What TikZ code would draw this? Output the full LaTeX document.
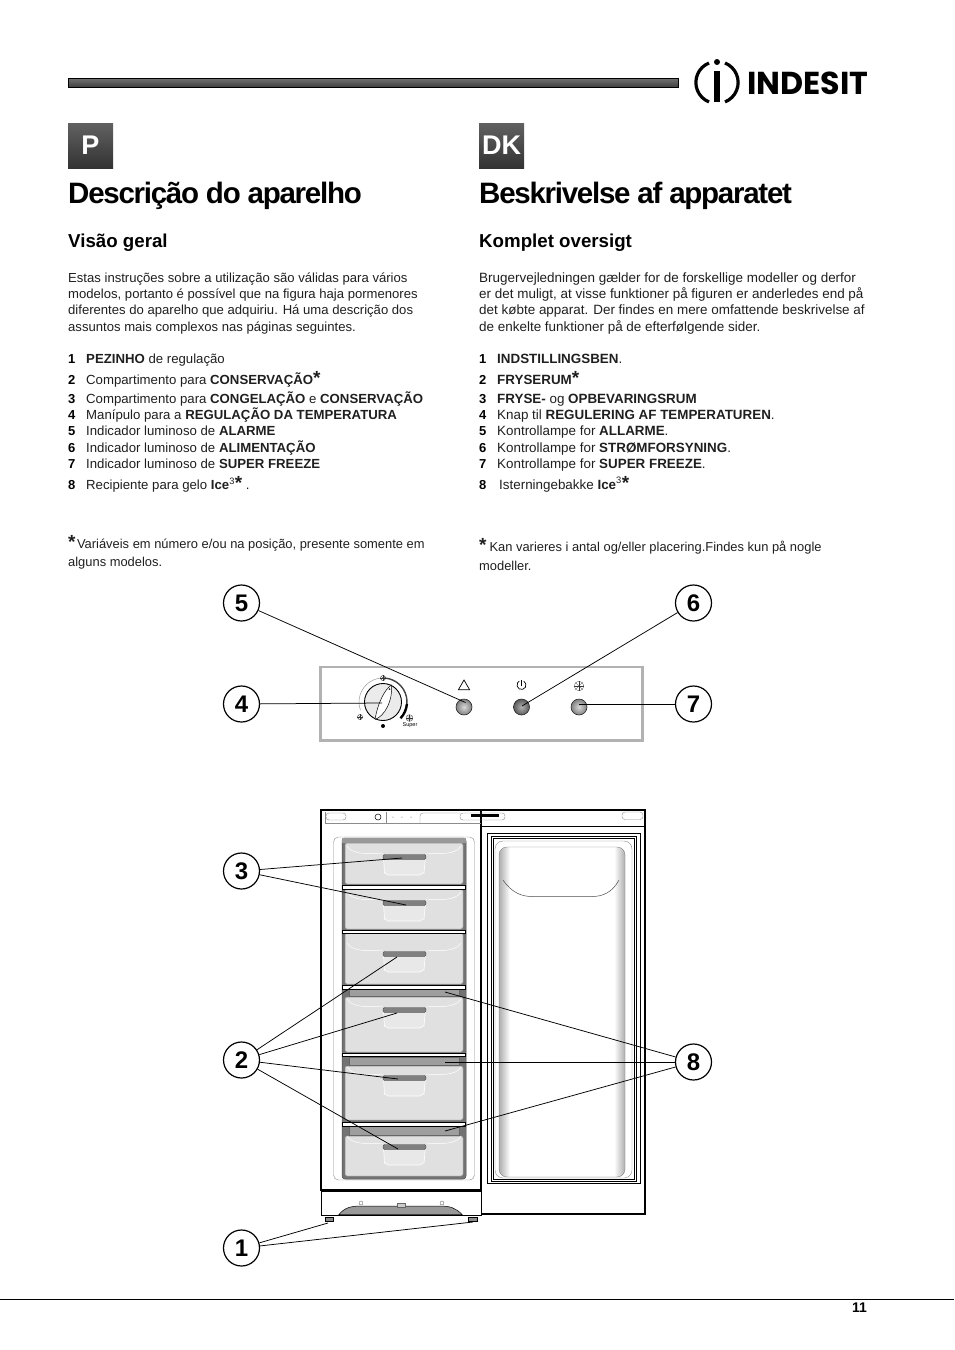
\documentclass[tikz,border=0pt]{standalone}
\usepackage{fontspec}
\usepackage{tikz}
\usetikzlibrary{positioning,calc,shapes.geometric}
\setmainfont{Liberation Sans}
\newfontfamily\headfont[LetterSpace=-4.3]{Liberation Sans}
\newfontfamily\logofont{Poppins}
\newcommand{\noteast}{{\fontsize{19}{19}\selectfont\bfseries *}}

\begin{document}
\begin{tikzpicture}[x=1pt, y=-1pt,
    bar/.style={draw=black, line width=0.8pt, top color=black!55, bottom color=black!75},
    langbox/.style={rectangle, minimum size=45pt, inner sep=0pt, top color=black!62, bottom color=black!80, text=white, font=\fontsize{27}{27}\selectfont\bfseries},
    heading/.style={anchor=base west, inner sep=0pt, font=\fontsize{29.5}{30}\selectfont\headfont\bfseries},
    subhead/.style={anchor=base west, inner sep=0pt, font=\fontsize{18.7}{20}\selectfont\bfseries},
    bodyline/.style={anchor=base west, inner sep=0pt, text=black!88, font=\fontsize{13.1}{15}\selectfont},
    bodylinedk/.style={anchor=base west, inner sep=0pt, text=black!88, font=\fontsize{13.45}{15}\selectfont},
    itemline/.style={anchor=base west, inner sep=0pt, text=black!88, font=\fontsize{13.2}{15}\selectfont},
    itemlinedk/.style={anchor=base west, inner sep=0pt, text=black!88, font=\fontsize{13.4}{15}\selectfont},
    noteline/.style={anchor=base west, inner sep=0pt, text=black!88, font=\fontsize{12.9}{15}\selectfont},
    numline/.style={anchor=base west, inner sep=0pt, font=\fontsize{13}{15}\selectfont\bfseries},
    callout/.style={circle, draw=black, line width=1.2pt, fill=white, minimum size=36pt, inner sep=0pt, font=\fontsize{24}{24}\selectfont\bfseries},
    leader/.style={draw=black, line width=0.75pt},
    lamp/.style={circle, draw=black!85, line width=0.6pt, minimum size=16pt, inner sep=0pt, inner color=black!15, outer color=black!50},
    wall/.style={draw=black, line width=1.5pt},
    drawer/.style={draw=black!45, line width=0.5pt, fill=black!12, rounded corners=2pt},
    shelf/.style={draw=black, line width=0.6pt, fill=white},
    iceb/.style={draw=black!60, line width=0.5pt, fill=black!38},
    thin/.style={draw=black, line width=0.5pt},
    faint/.style={draw=black!45, line width=0.4pt},
    flake/.pic={
        \draw [black!80, line width=0.3pt] (0,0) circle (\flakesize);
        \foreach \a in {0,45,90,135}
            \draw [black!80, line width=0.3pt] (\a:\flakesize) -- (\a+180:\flakesize);
    }]

    \useasboundingbox (0,0) rectangle (954,1350);

    % header
    \path [bar] (68,78) rectangle (678,87);
    \draw [line width=3.2pt] (709,63) arc (-112:-248:21);
    \draw [line width=3.2pt] (725,63) arc (-68:68:21);
    \node [circle, fill=black, minimum size=6pt, inner sep=0pt] (logodot) at (717,62) {};
    \path [fill=black] (714,71) rectangle (720,102);
    \node [anchor=base west, inner sep=0pt, font=\fontsize{31.7}{33}\selectfont\logofont\bfseries] (logotext) at (747,94) {INDESIT};

    % portuguese column
    \node [langbox] (langp) at (90.5,145.5) {P};
    \node [heading] (titlep) at (68,203) {Descrição do aparelho};
    \node [subhead] (subp) at (68,247) {Visão geral};
    \foreach \y/\t [count=\i] in {282/{Estas instruções sobre a utilização são válidas para vários},
        298/{modelos, portanto é possível que na figura haja pormenores},
        314/{diferentes do aparelho que adquiriu. Há uma descrição dos},
        331/{assuntos mais complexos nas páginas seguintes.}}
        \node [bodyline] (introp\i) at (68,\y) {\t};
    \foreach \y/\n/\t in {363/1/{\textbf{PEZINHO} de regulação},
        384/2/{Compartimento para \textbf{CONSERVAÇÃO}\noteast},
        403/3/{Compartimento para \textbf{CONGELAÇÃO} e \textbf{CONSERVAÇÃO}},
        419/4/{Manípulo para a \textbf{REGULAÇÃO DA TEMPERATURA}},
        435/5/{Indicador luminoso de \textbf{ALARME}},
        452/6/{Indicador luminoso de \textbf{ALIMENTAÇÃO}},
        468/7/{Indicador luminoso de \textbf{SUPER FREEZE}},
        489/8/{Recipiente para gelo \textbf{Ice}\textsuperscript{3}\noteast\ .}}{
        \node [numline] (nump\n) at (68,\y) {\n};
        \node [itemline] (itemp\n) at (86,\y) {\t};
    }
    \node [noteline] (notep1) at (68,548) {\noteast\hspace{1.5pt}Variáveis em número e/ou na posição, presente somente em};
    \node [noteline] (notep2) at (68,566) {alguns modelos.};

    % danish column
    \node [langbox] (langdk) at (501.5,145.5) {DK};
    \node [heading] (titledk) at (479,203) {Beskrivelse af apparatet};
    \node [subhead] (subdk) at (479,247) {Komplet oversigt};
    \foreach \y/\t [count=\i] in {282/{Brugervejledningen gælder for de forskellige modeller og derfor},
        298/{er det muligt, at visse funktioner på figuren er anderledes end på},
        314/{det købte apparat. Der findes en mere omfattende beskrivelse af},
        331/{de enkelte funktioner på de efterfølgende sider.}}
        \node [bodylinedk] (introdk\i) at (479,\y) {\t};
    \foreach \y/\n/\t/\xx in {363/1/{\textbf{INDSTILLINGSBEN}.}/497,
        384/2/{\textbf{FRYSERUM}\noteast}/497,
        403/3/{\textbf{FRYSE-} og \textbf{OPBEVARINGSRUM}}/497,
        419/4/{Knap til \textbf{REGULERING AF TEMPERATUREN}.}/497,
        435/5/{Kontrollampe for \textbf{ALLARME}.}/497,
        452/6/{Kontrollampe for \textbf{STRØMFORSYNING}.}/497,
        468/7/{Kontrollampe for \textbf{SUPER FREEZE}.}/497,
        489/8/{Isterningebakke \textbf{Ice}\textsuperscript{3}\noteast}/499}{
        \node [numline] (numdk\n) at (479,\y) {\n};
        \node [itemlinedk] (itemdk\n) at (\xx,\y) {\t};
    }
    \node [noteline] (notedk1) at (479,551) {\noteast\hspace{3pt}Kan varieres i antal og/eller placering.Findes kun på nogle};
    \node [noteline] (notedk2) at (479,570) {modeller.};

    % control panel
    \path [draw=black!30, line width=2.6pt] (320.5,667) rectangle (642.5,740.5);
    \draw [black!35, line width=0.6pt] (383,678) arc (-90:-200:24);
    \draw [black!75, line width=1.4pt] (383,678) arc (-90:5:24);
    \draw [black, line width=2.4pt] (406.9,704) arc (5:43:24);
    \node [circle, draw=black, line width=0.9pt, fill=black!8, minimum size=37pt, inner sep=0pt] (dial) at (383,702) {};
    \path [draw=black, line width=0.5pt, fill=white] (375,719.5) .. controls (378,702) and (385,689) .. (391.5,685) .. controls (393,700) and (385,716) .. (375,719.5);
    \node [circle, fill=black!80, minimum size=2pt, inner sep=0pt] (dialmark) at (389.5,689) {};
    \node [circle, fill=black, minimum size=4pt, inner sep=0pt] (dialdot) at (383,726) {};
    \node [font=\fontsize{5.5}{6}\selectfont, inner sep=0pt] (supertext) at (410,725.5) {Super};
    \def\flakesize{2.6}
    \pic at (383,678) {flake};
    \pic at (360,717) {flake};
    \def\flakesize{3.4}
    \pic at (409.5,718) {flake};
    \def\flakesize{4.8}
    \pic at (579,686) {flake};
    \node [lamp] (lamp5) at (464,707) {};
    \node [lamp, inner color=black!30, outer color=black!65] (lamp6) at (521.5,707) {};
    \node [lamp] (lamp7) at (579,707) {};
    \node [regular polygon, regular polygon sides=3, draw=black, line width=0.7pt, minimum size=13pt, inner sep=0pt] (iconalarm) at (464,686.5) {};
    \draw [black, line width=0.7pt] (523.75,681.1) arc (-60:240:4.5);
    \draw [black, line width=0.7pt] (521.5,680) -- (521.5,686);

    % cabinet
    \path [fill=white, wall] (321,810) rectangle (481,1190);
    \path [fill=white, wall] (481,810) rectangle (645,1214);
    \path [fill=white, draw=black, line width=1pt] (321,1191) rectangle (481,1215);
    \draw [faint] (325,812) -- (325,823.5) -- (481,823.5);
    \draw [thin] (481,826) -- (645,826);
    \draw [faint, rounded corners=3pt] (326,813) rectangle (346,820);
    \draw [faint, rounded corners=3pt] (460,813) rectangle (505,820);
    \draw [faint, rounded corners=3pt] (622,812) rectangle (643,819.5);
    \draw [faint] (386,812) -- (386,823);
    \draw [faint, rounded corners=3pt] (420,823) -- (420,813) -- (460,813);
    \node [circle, draw=black, line width=0.5pt, minimum size=6pt, inner sep=0pt] (miniknob) at (378,817) {};
    \foreach \x in {393,402,411}
        \node [circle, fill=black!70, minimum size=1pt, inner sep=0pt] (minidot\x) at (\x,817) {};
    \path [fill=black] (471,814) rectangle (499,817);

    % freezer cavity
    \draw [faint, rounded corners=5pt] (333.5,837) rectangle (474.5,1180);
    \path [fill=black!55, draw=black!70, line width=0.5pt, rounded corners=3pt] (342,838) rectangle (466,1179);
    \path [fill=black!40] (342,838) rectangle (466,843);
    \foreach \a/\b [count=\i] in {843/884, 889/929, 933/984, 997/1052, 1066/1120, 1136/1176}
        \path [drawer] (345,\a) rectangle (463,\b);
    \foreach \a/\b [count=\i] in {989/996, 1057/1065, 1126/1135}
        \path [iceb] (349,\a) rectangle (459,\b);
    \foreach \a/\b [count=\i] in {885/889.5, 930/933.5, 985/989, 1053/1056.5, 1122/1126}
        \path [shelf] (342.5,\a) rectangle (465.5,\b);
    \foreach \h [count=\i] in {857,903,954,1010,1078,1147}{
        \draw [draw=white, line width=0.6pt, fill=black!9] (383.5,\h) -- (384.5,\h+16) to [out=90,in=180] (388,\h+18) -- (420,\h+18) to [out=0,in=90] (424,\h+16) -- (425.5,\h);
        \draw [draw=white, line width=0.5pt] (347,\h-11) .. controls (352,\h-2) and (370,\h-3) .. (383,\h-4);
        \draw [draw=white, line width=0.5pt] (461,\h-11) .. controls (456,\h-2) and (438,\h-3) .. (426,\h-4);
        \node [rectangle, rounded corners=2pt, draw=black!75, line width=0.4pt, fill=black!50, minimum width=43pt, minimum height=5pt, inner sep=0pt] (handle\i) at (404.5,\h) {};
    }

    % door
    \draw [thin, line width=0.7pt] (487,833) rectangle (640,1183);
    \draw [thin] (491,836) rectangle (636,1181);
    \draw [thin] (493,838) rectangle (634,1179);
    \draw [faint, rounded corners=8pt] (495,841) rectangle (632,1178);
    \begin{scope}
        \clip [rounded corners=8pt] (499,847) rectangle (625,1177);
        \path [left color=black!32, right color=white] (499,847) rectangle (510,1177);
        \path [right color=black!32, left color=white] (614,847) rectangle (625,1177);
    \end{scope}
    \draw [black!50, line width=0.4pt, rounded corners=8pt] (499,847) rectangle (625,1177);
    \draw [black!70, line width=0.5pt] (503,880) .. controls (512,893) and (522,896.5) .. (532,896.5) -- (592,896.5) .. controls (602,896.5) and (612,893) .. (619,880);

    % base
    \path [fill=black!40, draw=black, line width=0.5pt] (339,1214.5) .. controls (345,1207) and (352,1206) .. (362,1206) -- (440,1206) .. controls (450,1206) and (456,1208) .. (462,1214.5) -- cycle;
    \node [rectangle, draw=black!60, fill=black!20, minimum width=8pt, minimum height=4pt, inner sep=0pt] (basecatch) at (401,1205) {};
    \node [circle, draw=black!70, line width=0.3pt, minimum size=4pt, inner sep=0pt] (basescrew1) at (361,1203) {};
    \node [circle, draw=black!70, line width=0.3pt, minimum size=4pt, inner sep=0pt] (basescrew2) at (442,1203) {};
    \node [rectangle, draw=black, line width=0.5pt, fill=black!45, minimum width=8pt, minimum height=4pt, inner sep=0pt] (foot1) at (329,1219) {};
    \node [rectangle, draw=black, line width=0.5pt, fill=black!45, minimum width=9pt, minimum height=4pt, inner sep=0pt] (foot2) at (473,1219) {};

    % leader ends
    \coordinate (end5) at (465.5,702.5);
    \coordinate (end6) at (522,706);
    \coordinate (end4) at (382,703);
    \coordinate (end7) at (579,704);
    \coordinate (end3a) at (402,858);
    \coordinate (end3b) at (406,905);
    \coordinate (end2a) at (397,957);
    \coordinate (end2b) at (397,1013);
    \coordinate (end2c) at (398,1079);
    \coordinate (end2d) at (398,1149);
    \coordinate (end8a) at (445,992);
    \coordinate (end8b) at (445,1062);
    \coordinate (end8c) at (445,1131);
    \coordinate (end1a) at (328,1223);
    \coordinate (end1b) at (473,1222);

    % callouts
    \node [callout] (call5) at (241.5,603) {5};
    \node [callout] (call6) at (693.5,603) {6};
    \node [callout] (call4) at (241.5,704) {4};
    \node [callout] (call7) at (693.5,704) {7};
    \node [callout] (call3) at (241.5,871) {3};
    \node [callout] (call2) at (241.5,1060) {2};
    \node [callout] (call8) at (693.5,1062) {8};
    \node [callout] (call1) at (241.5,1248) {1};

    \path [leader] (call5) -- (end5);
    \path [leader] (call6) -- (end6);
    \path [leader] (call4) -- (end4);
    \path [leader] (call7) -- (end7);
    \foreach \e in {3a,3b}
        \path [leader] (call3) -- (end\e);
    \foreach \e in {2a,2b,2c,2d}
        \path [leader] (call2) -- (end\e);
    \foreach \e in {8a,8b,8c}
        \path [leader] (call8) -- (end\e);
    \foreach \e in {1a,1b}
        \path [leader] (call1) -- (end\e);

    % footer
    \coordinate (ruleleft) at (0,1299);
    \coordinate (ruleright) at (954,1299);
    \draw [black, line width=0.7pt] (ruleleft) -- (ruleright);
    \node [numline, font=\fontsize{14}{15}\selectfont\bfseries] (pagenum) at (852,1312) {11};
\end{tikzpicture}
\end{document}
